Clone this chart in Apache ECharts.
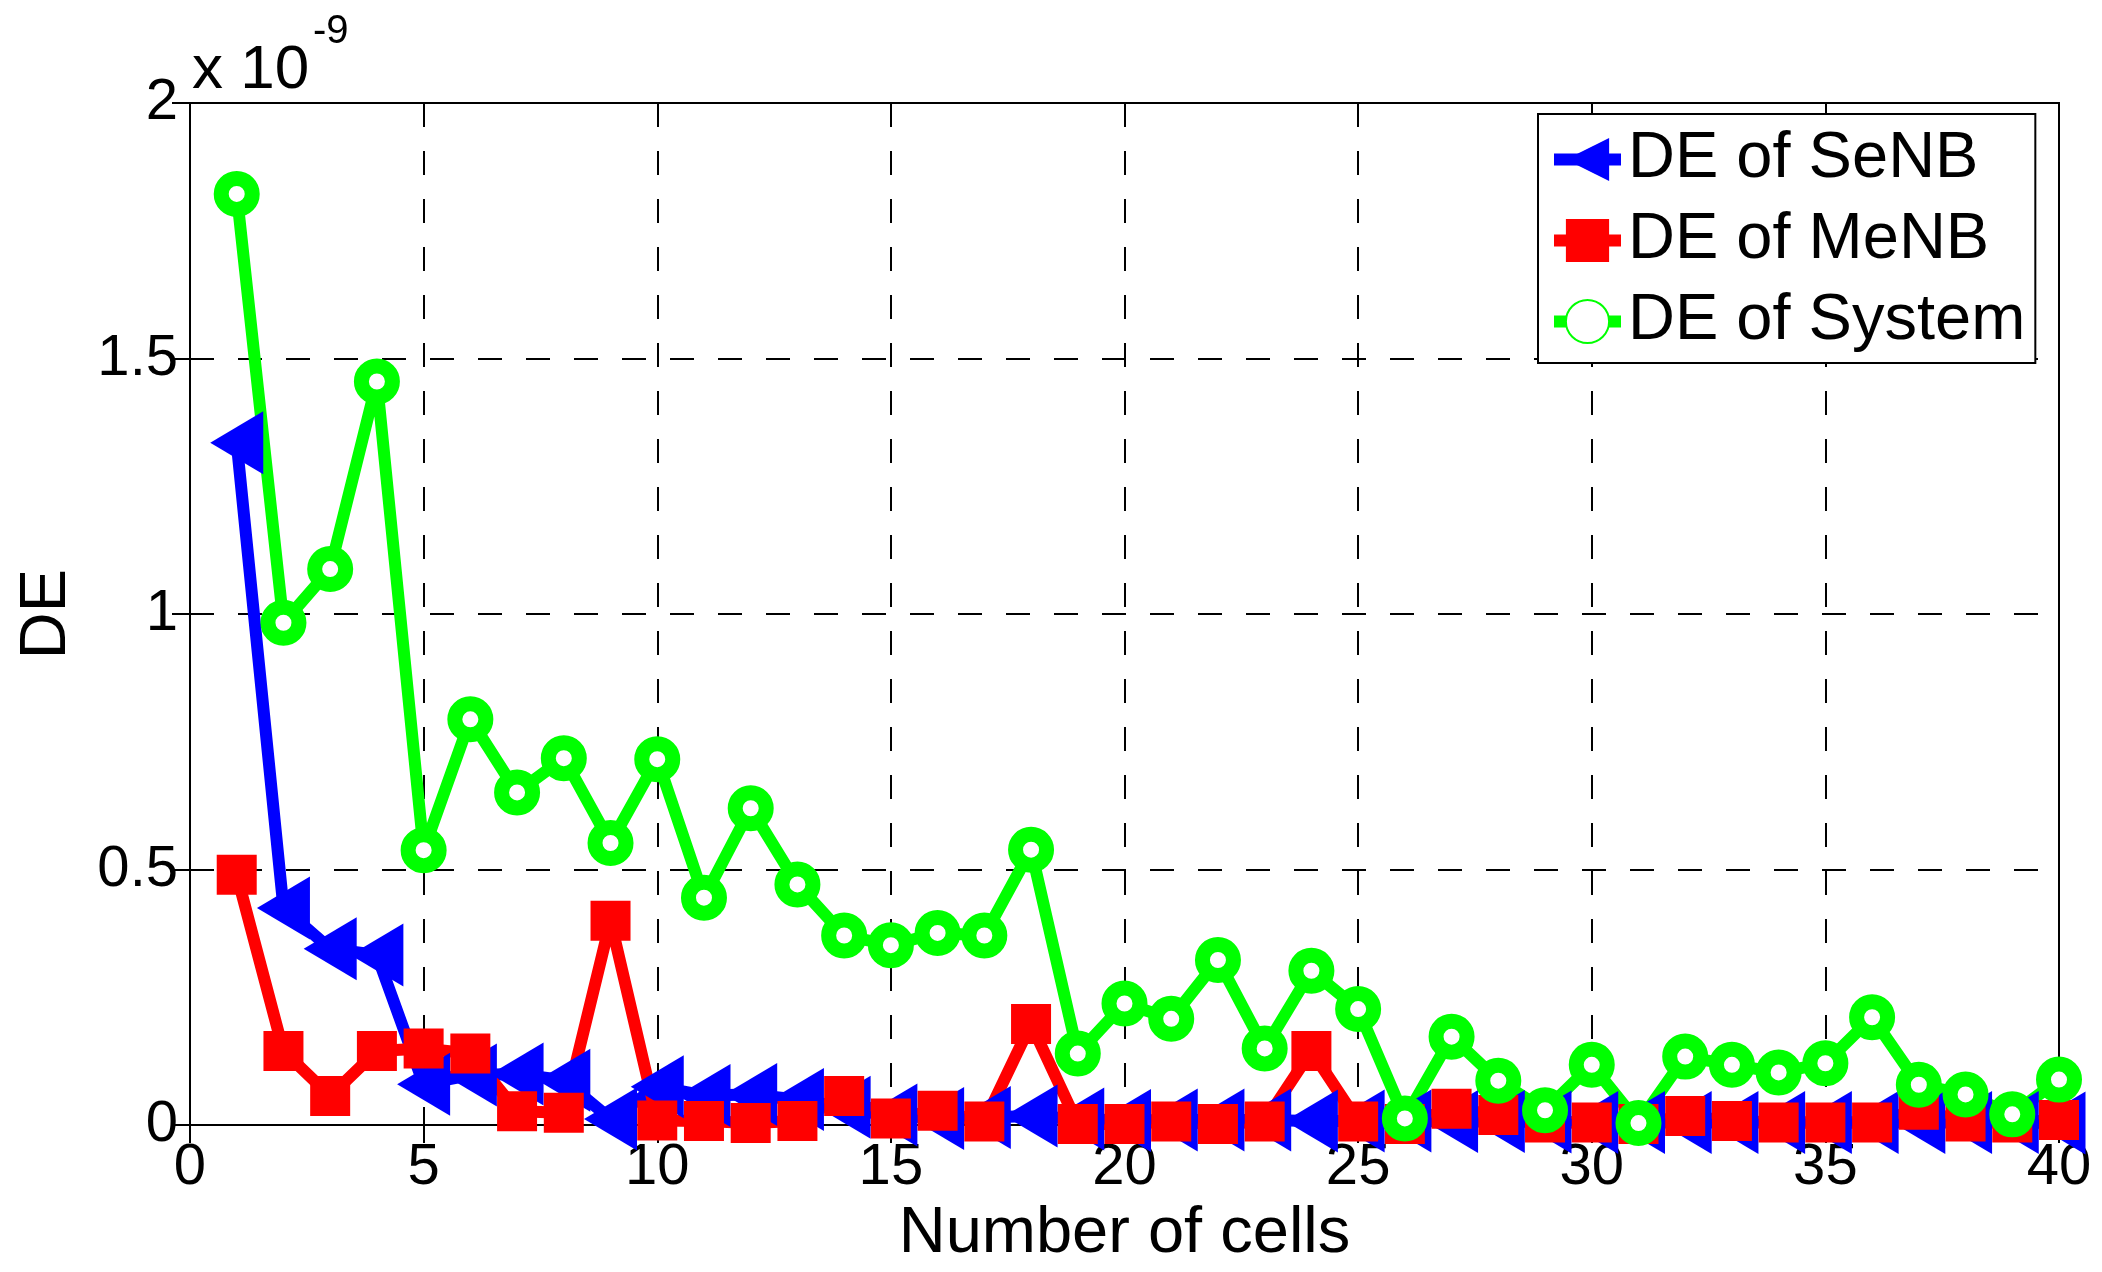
<!DOCTYPE html>
<html>
<head>
<meta charset="utf-8">
<script src="https://cdn.jsdelivr.net/npm/echarts@6/dist/echarts.min.js"></script>
<style>
  html, body { margin: 0; padding: 0; background: #fff; }
  #chart { width: 2102px; height: 1272px; }
</style>
</head>
<body>
<div id="chart"></div>
<script>
// x values: number of cells
const cells = [1,2,3,4,5,6,7,8,9,10,11,12,13,14,15,16,17,18,19,20,21,22,23,24,25,26,27,28,29,30,31,32,33,34,35,36,37,38,39,40];
// values in units of 1e-9
const deSeNB = [1.335,0.425,0.345,0.333,0.08,0.098,0.10,0.088,0.012,0.075,0.058,0.06,0.05,0.035,0.02,0.013,0.015,0.018,0.012,0.009,0.01,0.01,0.01,0.008,0.008,0.008,0.007,0.007,0.006,0.005,0.005,0.005,0.005,0.005,0.005,0.005,0.005,0.005,0.005,0.004];
const deMeNB = [0.49,0.145,0.057,0.145,0.15,0.14,0.027,0.024,0.40,0.009,0.008,0.004,0.008,0.057,0.013,0.028,0.007,0.198,0.002,0.002,0.007,0.002,0.007,0.145,0.007,0.002,0.032,0.02,0.005,0.005,0.002,0.018,0.008,0.005,0.005,0.005,0.03,0.007,0.005,0.01];
const deSystem = [1.822,0.983,1.088,1.455,0.538,0.794,0.651,0.718,0.552,0.716,0.445,0.620,0.471,0.371,0.352,0.376,0.371,0.539,0.140,0.238,0.208,0.323,0.150,0.302,0.227,0.013,0.173,0.087,0.029,0.118,0.004,0.134,0.118,0.103,0.121,0.211,0.079,0.060,0.021,0.089];
const seriesNames = ['DE of SeNB', 'DE of MeNB', 'DE of System'];
const yTickLabels = ['0', '0.5', '1', '1.5', '2'];
const xTickLabels = ['0','5','10','15','20','25','30','35','40'];
const exponentBase = 'x 10';
const exponentPower = '-9';

const FONT = 'Liberation Sans, Arial, Helvetica, sans-serif';
const chart = echarts.init(document.getElementById('chart'), null, { renderer: 'canvas' });

function pairs(arr) { return cells.map((c, i) => [c, arr[i]]); }

const axisCommon = {
  axisLine: { show: true, lineStyle: { color: '#000', width: 2 } },
  axisTick: { show: true, inside: true, length: 18, lineStyle: { color: '#000', width: 2 } }
};

chart.setOption({
  animation: false,
  backgroundColor: '#fff',
  grid: { left: 190, right: 43, top: 103, bottom: 146, show: true, borderColor: '#000', borderWidth: 2 },
  xAxis: [
    Object.assign({
      type: 'value', min: 0, max: 40, interval: 5, position: 'bottom',
      name: 'Number of cells', nameLocation: 'middle', nameGap: 72,
      nameTextStyle: { fontFamily: FONT, fontSize: 65, color: '#000' },
      axisLabel: { margin: 14, fontFamily: FONT, fontSize: 58, color: '#000',
        formatter: v => xTickLabels[Math.round(v / 5)] },
      splitLine: { show: true, lineStyle: { color: '#000', width: 2, type: [24, 24] } }
    }, axisCommon),
    Object.assign({
      type: 'value', min: 0, max: 40, interval: 5, position: 'top',
      axisLabel: { show: false }, splitLine: { show: false }
    }, axisCommon)
  ],
  yAxis: [
    Object.assign({
      type: 'value', min: 0, max: 2, interval: 0.5, position: 'left',
      name: 'DE', nameLocation: 'middle', nameGap: 110, nameRotate: 90,
      nameTextStyle: { fontFamily: FONT, fontSize: 65, color: '#000' },
      axisLabel: { margin: 12, fontFamily: FONT, fontSize: 58, color: '#000',
        formatter: v => yTickLabels[Math.round(v / 0.5)] },
      splitLine: { show: true, lineStyle: { color: '#000', width: 2, type: [24, 24] } }
    }, axisCommon),
    Object.assign({
      type: 'value', min: 0, max: 2, interval: 0.5, position: 'right',
      axisLabel: { show: false }, splitLine: { show: false }
    }, axisCommon)
  ],
  legend: {
    orient: 'vertical', left: 1538, top: 114,
    data: seriesNames,
    backgroundColor: '#fff', borderColor: '#000', borderWidth: 2, borderRadius: 0,
    padding: [13, 10, 9, 10], itemGap: 16,
    itemWidth: 67, itemHeight: 54,
    lineStyle: { width: 12 },
    textStyle: { fontFamily: FONT, fontSize: 65, color: '#000', padding: [0, 0, 0, 2] }
  },
  graphic: [
    { type: 'text', left: 192, top: 40, style: { text: exponentBase, font: '62px ' + FONT, fill: '#000' } },
    { type: 'text', left: 313, top: 12, style: { text: exponentPower, font: '40px ' + FONT, fill: '#000' } }
  ],
  series: [
    {
      name: seriesNames[0], type: 'line', data: pairs(deSeNB), clip: false,
      symbol: 'path://M0,50L100,0L100,100Z', symbolSize: [53, 63], symbolKeepAspect: false,
      lineStyle: { color: '#0000ff', width: 12 },
      itemStyle: { color: '#0000ff', borderWidth: 0 }
    },
    {
      name: seriesNames[1], type: 'line', data: pairs(deMeNB), clip: false,
      symbol: 'rect', symbolSize: 40,
      lineStyle: { color: '#ff0000', width: 12 },
      itemStyle: { color: '#ff0000', borderWidth: 0 }
    },
    {
      name: seriesNames[2], type: 'line', data: pairs(deSystem), clip: false,
      symbol: 'circle', symbolSize: 31,
      lineStyle: { color: '#00ff00', width: 12 },
      itemStyle: { color: '#ffffff', borderColor: '#00ff00', borderWidth: 15 }
    }
  ]
});
</script>
</body>
</html>
